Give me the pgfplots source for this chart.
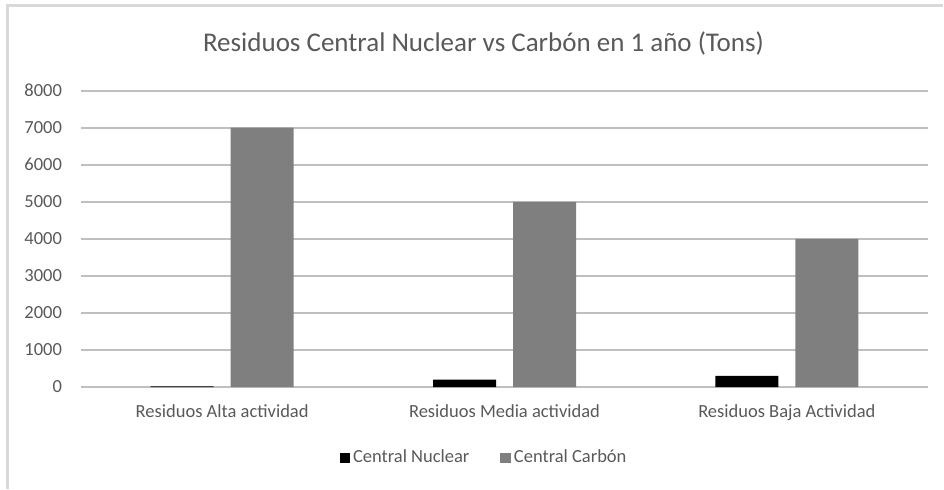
\documentclass[border=0pt]{standalone}
\usepackage{pgfplots}
\pgfplotsset{compat=1.18}
\usepackage{fontspec}
\setmainfont{Carlito}
\definecolor{txt}{HTML}{595959}
\definecolor{grid}{HTML}{D9D9D9}
\definecolor{carbon}{HTML}{7F7F7F}
\begin{document}
\begin{tikzpicture}
\useasboundingbox (0pt,0pt) rectangle (472pt,244.5pt);
\draw[grid,line width=1.5pt] (3.75pt,0pt) -- (3.75pt,241.75pt) -- (471.5pt,241.75pt);
\node[anchor=base,text=txt,font=\fontsize{13.5}{16}\selectfont] at (241.75pt,219pt) {Residuos Central Nuclear vs Carbón en 1 año (Tons)};
\begin{axis}[
  at={(40.5pt,51pt)}, anchor=south west,
  scale only axis, width=423.5pt, height=148.15pt,
  xmin=-0.5, xmax=2.5, ymin=0, ymax=8000,
  xtick={0,1,2},
  xticklabels={Residuos Alta actividad,Residuos Media actividad,Residuos Baja Actividad},
  ytick={0,1000,...,8000},
  axis line style={draw=none},
  major tick length=0pt,
  tick style={draw=none},
  xmajorgrids=false,
  ymajorgrids, grid style={grid,line width=1pt},
  tick label style={text=txt,font=\fontsize{9.25}{11}\selectfont},
  /pgf/number format/assume math mode=true,
  scaled y ticks=false,
  yticklabel style={/pgf/number format/1000 sep={}, xshift=-6pt},
  xticklabel style={anchor=base, yshift=-15pt},
  ybar, bar width=31.5pt,
  legend style={at={(0.4764,-0.2396)}, anchor=center, draw=none, fill=none,
    legend columns=2, font=\fontsize{9.25}{11}\selectfont, text=txt,
    /tikz/every even column/.append style={column sep=14pt},
    nodes={inner sep=1.5pt}},
  legend image code/.code={\fill[#1] (0pt,-2.75pt) rectangle (5.25pt,2.5pt);},
]
\addplot[draw=none, fill=black, bar shift=-20pt] coordinates {(0,20) (1,200) (2,300)};
\addlegendentry{Central Nuclear}
\addplot[draw=none, fill=carbon, bar shift=20pt] coordinates {(0,7000) (1,5000) (2,4000)};
\addlegendentry{Central Carbón}
\end{axis}
\end{tikzpicture}
\end{document}
